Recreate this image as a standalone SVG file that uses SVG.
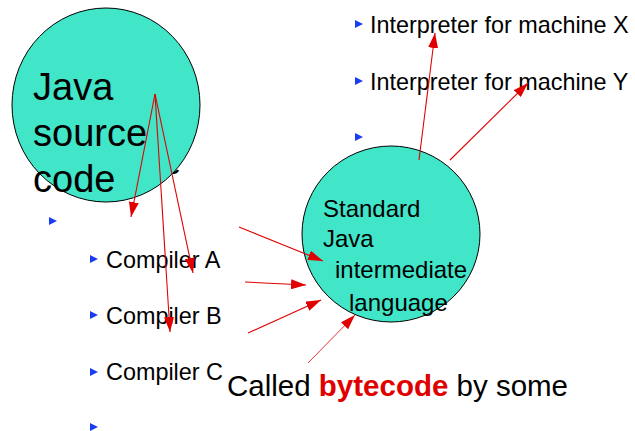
<svg xmlns="http://www.w3.org/2000/svg" width="635" height="431" viewBox="0 0 635 431">
  <style>
    .blob { fill: #41e5c8; stroke: #000; stroke-width: 1; }
    .big { font-family: "Liberation Sans", Arial, sans-serif; font-size: 38px; fill: #000; }
    .mid { font-family: "Liberation Sans", Arial, sans-serif; font-size: 24px; fill: #000; }
    .item { font-family: "Liberation Sans", Arial, sans-serif; font-size: 23.4px; fill: #000; }
    .note { font-family: "Liberation Sans", Arial, sans-serif; font-size: 29.5px; fill: #000; }
    .hot { fill: #e00000; font-weight: bold; }
    .bullet { fill: #1a3cf0; }
    .link { stroke: #e00000; stroke-width: 1.1; fill: none; marker-end: url(#head); }
    .thin { stroke-width: 0.8; }
  </style>
  <defs>
    <marker id="head" viewBox="0 0 15 10" refX="15" refY="5" markerWidth="15" markerHeight="10" markerUnits="userSpaceOnUse" orient="auto">
      <path d="M0,0 L15,5 L0,10 Z" fill="#e00000"/>
    </marker>
    <path id="tri" d="M0,-4 L8,0 L0,4 Z"/>
  </defs>

  <!-- partly hidden glyph behind the source circle -->
  <text class="big" style="font-size:30px" x="164" y="174">e</text>

  <g id="source">
    <ellipse class="blob" cx="106" cy="105" rx="94" ry="97"/>
    <text class="big" x="33" y="100">Java</text>
    <text class="big" x="33" y="146">source</text>
    <text class="big" x="33" y="192">code</text>
  </g>

  <g id="intermediate">
    <ellipse class="blob" cx="391" cy="234" rx="89" ry="88"/>
    <text class="mid" x="323" y="217">Standard</text>
    <text class="mid" x="323" y="247">Java</text>
    <text class="mid" x="335" y="278">intermediate</text>
    <text class="mid" x="349" y="311">language</text>
  </g>

  <g id="interpreters">
    <use href="#tri" class="bullet" x="355" y="24"/>
    <text class="item" x="370" y="33">Interpreter for machine X</text>
    <use href="#tri" class="bullet" x="355" y="81"/>
    <text class="item" x="370" y="90">Interpreter for machine Y</text>
    <use href="#tri" class="bullet" x="355" y="137"/>
  </g>

  <g id="compilers">
    <use href="#tri" class="bullet" x="49" y="221"/>
    <use href="#tri" class="bullet" x="90" y="259"/>
    <text class="item" x="106" y="268">Compiler A</text>
    <use href="#tri" class="bullet" x="90" y="315"/>
    <text class="item" x="106" y="324">Compiler B</text>
    <use href="#tri" class="bullet" x="90" y="372"/>
    <text class="item" x="106" y="380">Compiler C</text>
    <use href="#tri" class="bullet" x="90" y="427"/>
  </g>

  <g id="caption">
    <text class="note" x="227" y="396">Called <tspan class="hot">bytecode</tspan> by some</text>
  </g>

  <g id="connectors">
    <line class="link" x1="155" y1="94" x2="131" y2="217"/>
    <line class="link" x1="155" y1="94" x2="170" y2="332"/>
    <line class="link" x1="155" y1="94" x2="193" y2="273"/>
    <line class="link" x1="239" y1="227" x2="323" y2="261"/>
    <line class="link" x1="245" y1="282" x2="306" y2="285"/>
    <line class="link" x1="248" y1="333" x2="321" y2="300"/>
    <line class="link thin" x1="308" y1="363" x2="355" y2="315"/>
    <line class="link" x1="419" y1="160" x2="435" y2="33"/>
    <line class="link" x1="450" y1="160" x2="528" y2="83"/>
  </g>
</svg>
